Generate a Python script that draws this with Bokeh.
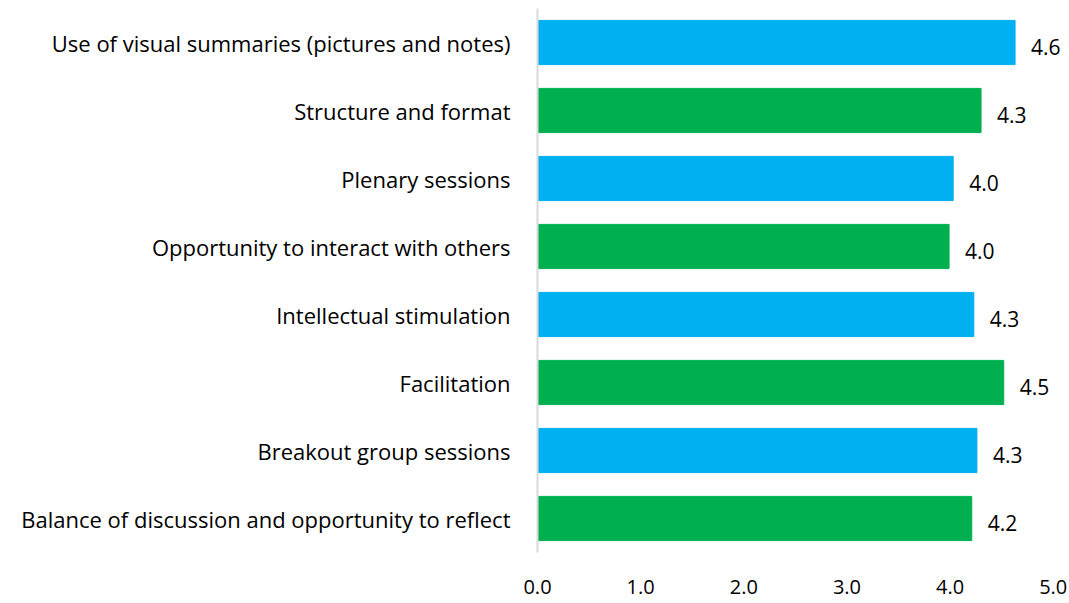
from bokeh.plotting import figure
from bokeh.models import ColumnDataSource, FixedTicker, Range1d, FactorRange, CustomJSTickFormatter
from bokeh.core.properties import value
from bokeh.embed import file_html
from bokeh.resources import INLINE

categories = [
    "Use of visual summaries (pictures and notes)",
    "Structure and format",
    "Plenary sessions",
    "Opportunity to interact with others",
    "Intellectual stimulation",
    "Facilitation",
    "Breakout group sessions",
    "Balance of discussion and opportunity to reflect",
]
scores = [4.63, 4.30, 4.03, 3.99, 4.23, 4.52, 4.26, 4.21]
score_labels = ["4.6", "4.3", "4.0", "4.0", "4.3", "4.5", "4.3", "4.2"]
bar_colors = ["#00B0F0", "#00B050", "#00B0F0", "#00B050",
              "#00B0F0", "#00B050", "#00B0F0", "#00B050"]
x_ticks = [0, 1, 2, 3, 4, 5]

FONT = "Open Sans"

src = ColumnDataSource(dict(cat=categories, val=scores, lab=score_labels, col=bar_colors))

p = figure(
    width=1069, height=603,
    y_range=FactorRange(factors=list(reversed(categories)), range_padding=0),
    x_range=Range1d(0, 5.08),
    output_backend="svg", toolbar_location=None,
    min_border_left=537, min_border_right=8, min_border_top=8, min_border_bottom=51,
)
p.hbar(y="cat", right="val", left=0, height=0.65, color="col", source=src)
p.text(x="val", y="cat", text="lab", source=src, x_offset=16, y_offset=4,
       text_align="left", text_baseline="middle", text_font=value(FONT),
       text_font_size="21px", text_color="#000000")

p.outline_line_color = None
p.grid.visible = False

p.xaxis.ticker = FixedTicker(ticks=x_ticks)
p.xaxis.formatter = CustomJSTickFormatter(code="return tick.toFixed(1);")
p.xaxis.axis_line_color = None
p.xaxis.major_tick_line_color = None
p.xaxis.minor_tick_line_color = None
p.xaxis.major_label_standoff = 21
p.xaxis.major_label_text_font = FONT
p.xaxis.major_label_text_font_size = "20px"
p.xaxis.major_label_text_color = "#000000"

p.yaxis.axis_line_color = "#d9d9d9"
p.yaxis.axis_line_width = 2
p.yaxis.major_tick_line_color = None
p.yaxis.minor_tick_line_color = None
p.yaxis.major_label_standoff = 21
p.yaxis.major_label_text_font = FONT
p.yaxis.major_label_text_font_size = "22px"
p.yaxis.major_label_text_color = "#000000"

open("out.html", "w").write(file_html(p, INLINE))
